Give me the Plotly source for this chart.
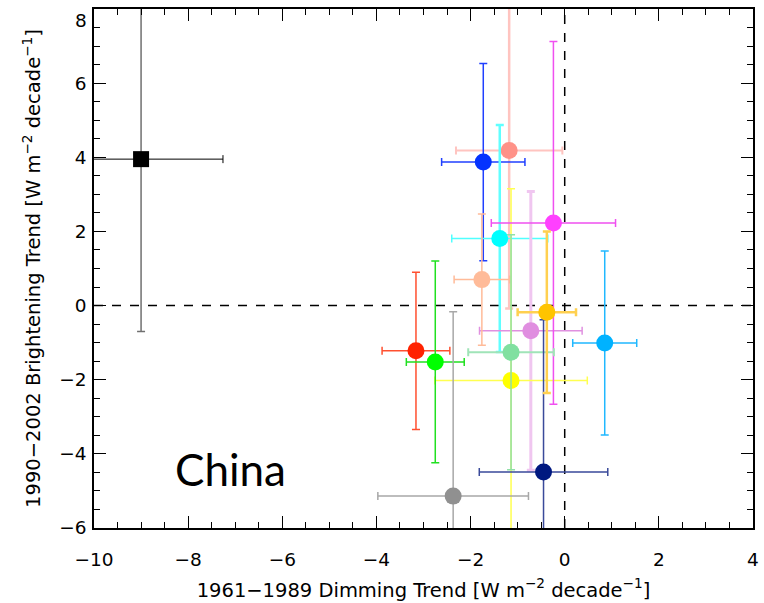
import plotly.graph_objects as go

# ---- data ----
names = ["ref", "salmon", "blue", "cyan", "magenta", "yellow", "orchid", "peach",
         "orange", "skyblue", "red", "green", "gray", "lightgreen", "navy"]
x_vals = [-9.0, -1.18, -1.73, -1.38, -0.24, -1.14, -0.72, -1.76,
          -0.38, 0.85, -3.16, -2.75, -2.37, -1.14, -0.45]
y_vals = [3.95, 4.18, 3.87, 1.81, 2.23, -2.02, -0.68, 0.70,
          -0.18, -1.01, -1.22, -1.52, -5.14, -1.26, -4.49]
x_err = [1.74, 1.13, 0.885, 1.02, 1.32, 1.62, 1.09, 0.59,
         0.62, 0.68, 0.72, 0.615, 1.60, 0.91, 1.365]
y_err = [4.65, 4.26, 2.66, 3.06, 4.89, 5.17, 3.76, 1.77,
         2.18, 2.48, 2.12, 2.72, 4.97, 3.17, 4.11]

marker_colors = ["#000000", "#FF9288", "#0533FF", "#00FFFF", "#FF40FF", "#FFFF00", "#E08EE0", "#FFBB99",
                 "#FFC400", "#00B2FF", "#FF2200", "#00FF00", "#909090", "#80E0A0", "#001880"]
xerr_colors = ["#000000", "#FFC4C0", "#2040FF", "#50FFFF", "#F050F0", "#FFFF50", "#E090E0", "#FFBB99",
               "#FFD050", "#20B8FF", "#FF5030", "#20E020", "#A8A8A8", "#A0E4B8", "#3A4A9A"]
yerr_colors = ["#707070", "#FFC4C0", "#2040FF", "#60FFFF", "#F050F0", "#FFFF50", "#F0C6F0", "#FFBB99",
               "#FFD050", "#20B8FF", "#FF5030", "#20E020", "#A8A8A8", "#90E0A8", "#3A4A9A"]
yerr_widths = [1.5, 2.5, 1.5, 2.5, 1.5, 1.5, 3.0, 1.5, 2.5, 1.5, 1.5, 1.5, 1.5, 1.5, 1.5]
xerr_widths = [1.0, 2.0, 1.5, 1.5, 1.5, 1.5, 1.5, 1.5, 2.5, 1.5, 1.5, 1.5, 1.5, 2.0, 1.5]

x_ticks = [-10, -8, -6, -4, -2, 0, 2, 4]
y_ticks = [-6, -4, -2, 0, 2, 4, 6, 8]
y_tick_text = ["\u22126", "\u22124", "\u22122", "0", "2", "4", "6", ""]  # top label "8" drawn below
top_y_label = "8"

fig = go.Figure()

draw_order = [0, 1, 2, 3, 6, 5, 4, 7, 13, 14, 8, 9, 10, 11, 12]
for i in draw_order:
    fig.add_trace(go.Scatter(
        x=[x_vals[i]], y=[y_vals[i]], mode="markers", name=names[i],
        marker=dict(symbol="square" if i == 0 else "circle",
                    size=16 if i == 0 else 17, color=marker_colors[i],
                    line=dict(width=0)),
        error_x=dict(type="data", array=[x_err[i]], symmetric=True,
                     color=xerr_colors[i], thickness=xerr_widths[i], width=4),
        error_y=dict(type="data", array=[y_err[i]], symmetric=True,
                     color=yerr_colors[i], thickness=yerr_widths[i], width=4),
        showlegend=False,
    ))

fig.add_hline(y=0, line=dict(color="black", width=1.5, dash="dash"), layer="below")
fig.add_vline(x=0, line=dict(color="black", width=1.5, dash="dash"), layer="below")

fig.add_annotation(x=-7.09, y=-4.42, xref="x", yref="y", text="China", showarrow=False,
                   font=dict(family="Lato", size=44, color="black"))

tick_font = dict(family="DejaVu Sans", size=18.5, color="black")
title_font = dict(family="DejaVu Sans", size=19.5, color="black")

# top tick label, shifted down inside the page as in the reference
fig.add_annotation(x=0, xref="paper", y=y_ticks[-1], yref="y", text=top_y_label, showarrow=False,
                   xanchor="right", yanchor="middle", xshift=-5, yshift=-11, font=tick_font)

axis_common = dict(
    showgrid=False, zeroline=False, showline=True, linecolor="black", linewidth=1.5,
    mirror="allticks", ticks="inside", ticklen=12, tickwidth=1.2, tickcolor="black",
    tickfont=tick_font, automargin=False, ticklabeloverflow="allow",
    minor=dict(ticks="inside", ticklen=6, tickwidth=1, tickcolor="black", dtick=0.5),
)

fig.update_xaxes(range=[-10, 4], tickvals=x_ticks, ticklabelstandoff=14, **axis_common,
                 title=dict(text="1961\u22121989 Dimming Trend [W m<sup>\u22122</sup> decade<sup>\u22121</sup>]",
                            font=title_font, standoff=14))
fig.update_yaxes(range=[-6, 8], tickvals=y_ticks, ticktext=y_tick_text, ticklabelstandoff=2, **axis_common,
                 title=dict(text="1990\u22122002 Brightening Trend [W m<sup>\u22122</sup> decade<sup>\u22121</sup>]",
                            font=title_font, standoff=13))

fig.update_layout(
    width=764, height=603,
    margin=dict(l=94, r=11, t=9, b=75),
    plot_bgcolor="white", paper_bgcolor="white",
)

fig.write_html("out.html")
